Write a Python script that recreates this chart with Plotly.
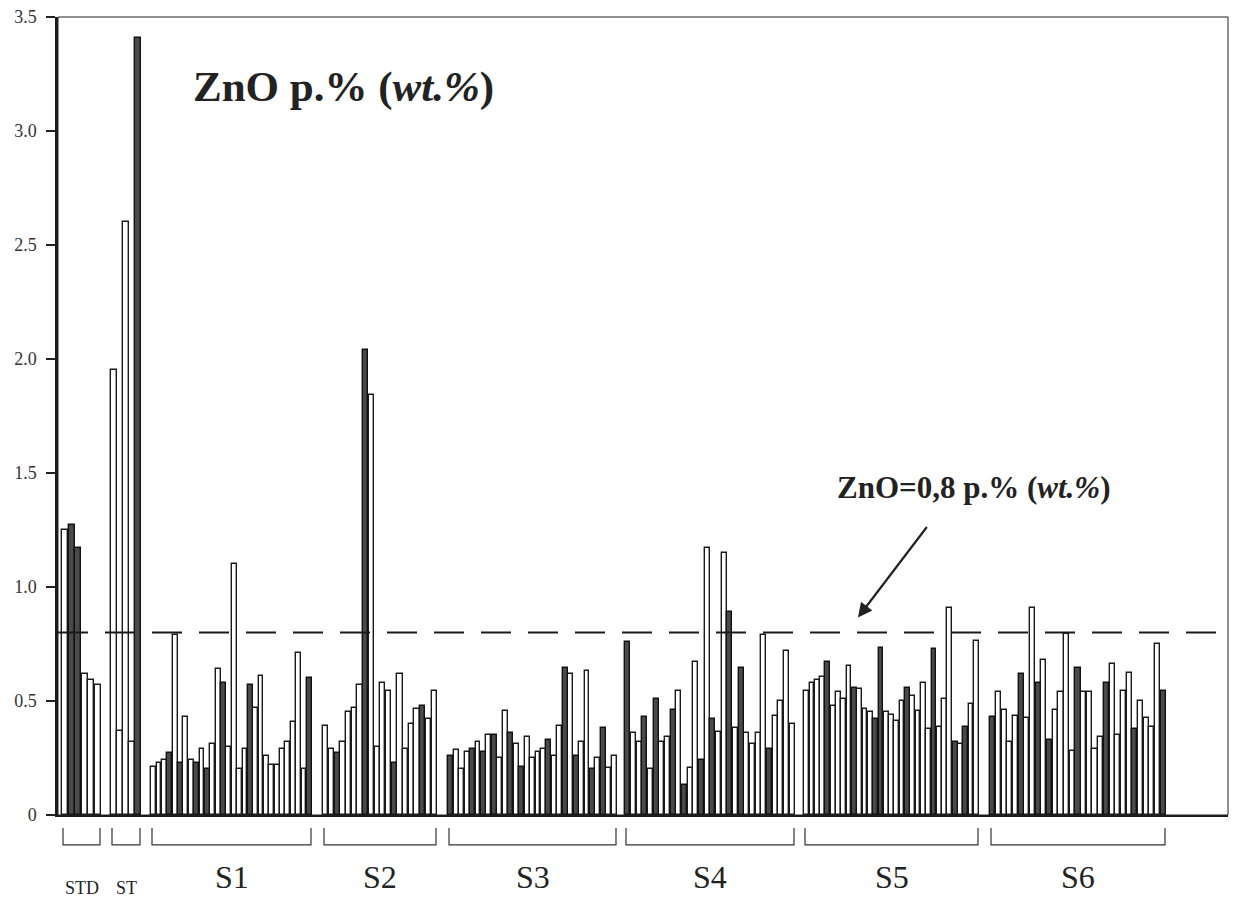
import plotly.graph_objects as go

# ---------------- data (ZnO wt.% per analysis) ----------------
group_names = ["STD", "ST", "S1", "S2", "S3", "S4", "S5", "S6"]

std_values = [1.25, 1.27, 1.17, 0.62, 0.59, 0.57]
st_values = [1.95, 0.37, 2.60, 0.32, 3.41]
s1_values = [0.21, 0.23, 0.24, 0.27, 0.79, 0.23, 0.43, 0.24, 0.23, 0.29,
             0.20, 0.31, 0.64, 0.58, 0.30, 1.10, 0.20, 0.29, 0.57, 0.47,
             0.61, 0.26, 0.22, 0.22, 0.29, 0.32, 0.41, 0.71, 0.20, 0.60]
s2_values = [0.39, 0.29, 0.27, 0.32, 0.45, 0.47, 0.57, 2.04, 1.84, 0.30,
             0.58, 0.545, 0.23, 0.62, 0.29, 0.40, 0.465, 0.48, 0.42, 0.545]
s3_values = [0.26, 0.286, 0.20, 0.276, 0.29, 0.32, 0.276, 0.35, 0.35, 0.25,
             0.455, 0.36, 0.31, 0.21, 0.34, 0.25, 0.276, 0.29, 0.327, 0.26,
             0.39, 0.645, 0.62, 0.26, 0.32, 0.63, 0.20, 0.25, 0.38, 0.205, 0.26]
s4_values = [0.76, 0.36, 0.32, 0.43, 0.20, 0.51, 0.32, 0.34, 0.46, 0.545,
             0.13, 0.205, 0.67, 0.24, 1.17, 0.42, 0.363, 1.15, 0.89, 0.38,
             0.645, 0.36, 0.31, 0.36, 0.79, 0.29, 0.435, 0.50, 0.72, 0.40]
s5_values = [0.545, 0.577, 0.59, 0.606, 0.67, 0.48, 0.54, 0.51, 0.654, 0.557,
             0.553, 0.466, 0.45, 0.42, 0.734, 0.45, 0.44, 0.414, 0.50, 0.557,
             0.52, 0.458, 0.58, 0.378, 0.73, 0.385, 0.51, 0.91, 0.32, 0.31,
             0.388, 0.488, 0.763]
s6_values = [0.43, 0.54, 0.46, 0.32, 0.436, 0.62, 0.427, 0.91, 0.577, 0.68,
             0.327, 0.46, 0.54, 0.795, 0.28, 0.644, 0.54, 0.54, 0.29, 0.344,
             0.58, 0.664, 0.35, 0.545, 0.625, 0.378, 0.50, 0.427, 0.388, 0.75,
             0.545]

# indices of analyses drawn as dark (shaded) bars in each group
std_dark = [1, 2]
st_dark = [4]
s1_dark = [3, 5, 8, 10, 13, 18, 29]
s2_dark = [2, 7, 12, 17]
s3_dark = [0, 4, 6, 8, 11, 13, 18, 21, 23, 26, 28]
s4_dark = [0, 3, 5, 8, 10, 13, 15, 18, 20, 25]
s5_dark = [4, 9, 13, 14, 19, 24, 28, 30]
s6_dark = [0, 5, 8, 10, 15, 20, 25, 30]

threshold = 0.8
y_tick_vals = [0, 0.5, 1.0, 1.5, 2.0, 2.5, 3.0, 3.5]
y_tick_text = ["0", "0.5", "1.0", "1.5", "2.0", "2.5", "3.0", "3.5"]

# ---------------- layout helpers ----------------
groups_values = [std_values, st_values, s1_values, s2_values,
                 s3_values, s4_values, s5_values, s6_values]
groups_dark = [std_dark, st_dark, s1_dark, s2_dark,
               s3_dark, s4_dark, s5_dark, s6_dark]
# horizontal extent of each group on the category axis (axis units)
group_spans = [(4, 43), (53, 83), (93, 254), (265, 379),
               (390, 559), (567, 737), (746, 921), (932, 1108)]
x_range = [0, 1170]

wx, wy, ww = [], [], []
dx, dy, dw = [], [], []
for vals, dark, (a, b) in zip(groups_values, groups_dark, group_spans):
    step = (b - a) / len(vals)
    for i, v in enumerate(vals):
        xc = a + (i + 0.5) * step
        if i in dark:
            dx.append(xc); dy.append(v); dw.append(step * 0.9)
        else:
            wx.append(xc); wy.append(v); ww.append(step * 0.9)

fig = go.Figure()
fig.add_trace(go.Bar(x=wx, y=wy, width=ww,
                     marker=dict(color="white", line=dict(color="#1a1a1a", width=1.4)),
                     showlegend=False, hoverinfo="y"))
fig.add_trace(go.Bar(x=dx, y=dy, width=dw,
                     marker=dict(color="#4a4a4a", line=dict(color="#111111", width=1.4)),
                     showlegend=False, hoverinfo="y"))

serif = "Liberation Serif, Times New Roman, serif"

shapes = []
# threshold dashed line
shapes.append(dict(type="line", xref="paper", yref="y", x0=0, x1=1,
                   y0=threshold, y1=threshold,
                   line=dict(color="#1a1a1a", width=2, dash="30px,17px"), layer="above"))
# frame (top & right)
shapes.append(dict(type="rect", xref="paper", yref="paper", x0=0, x1=1, y0=0, y1=1,
                   line=dict(color="#222", width=1), layer="above"))
# group brackets under the axis
for (a, b) in group_spans:
    shapes.append(dict(type="path", xref="x", yref="paper",
                       path=f"M {a+1},-0.0163 L {a+1},-0.0375 L {b-1},-0.0375 L {b-1},-0.0163",
                       line=dict(color="#333", width=1.2)))

annotations = []
for name, (a, b) in zip(group_names, group_spans):
    small = name in ("STD", "ST")
    annotations.append(dict(x=(a + b) / 2, y=-0.0915 if small else -0.0775,
                            xref="x", yref="paper", text=name, showarrow=False,
                            font=dict(family=serif, size=18 if small else 32, color="#222"),
                            yanchor="middle"))
annotations.append(dict(x=0.114, y=0.9125, xref="paper", yref="paper", xanchor="left",
                        text="<b>ZnO p.% (<i>wt.%</i>)</b>", showarrow=False,
                        font=dict(family=serif, size=43, color="#222"), yanchor="middle"))
annotations.append(dict(x=0.664, y=0.41, xref="paper", yref="paper", xanchor="left",
                        text="<b>ZnO=0,8 p.% (<i>wt.%</i>)</b>", showarrow=False,
                        font=dict(family=serif, size=31, color="#222"), yanchor="middle"))
# arrow pointing at the threshold line
annotations.append(dict(x=(858 - 58) / 1170, y=(815 - 617) / 800, xref="paper", yref="paper",
                        ax=928 - 858, ay=525 - 617, axref="pixel", ayref="pixel",
                        text="", showarrow=True, arrowhead=2, arrowsize=1.3,
                        arrowwidth=2.2, arrowcolor="#222"))

fig.update_layout(
    width=1235, height=899,
    margin=dict(l=58, r=7, t=15, b=84),
    paper_bgcolor="white", plot_bgcolor="white",
    bargap=0, barmode="overlay",
    shapes=shapes, annotations=annotations,
    xaxis=dict(range=x_range, showgrid=False, zeroline=False, showticklabels=False,
               ticks="", showline=True, linecolor="#1a1a1a", linewidth=2, fixedrange=True),
    yaxis=dict(range=[0, 3.5], tickvals=y_tick_vals, ticktext=y_tick_text,
               showgrid=False, zeroline=False, ticks="outside", ticklen=9, tickwidth=1.5,
               tickcolor="#222", showline=True, linecolor="#1a1a1a", linewidth=2.5,
               tickfont=dict(family=serif, size=18, color="#333"),
               ticklabelstandoff=6, fixedrange=True),
)

fig.write_html("out.html", config={"displayModeBar": False},
               post_script="document.body.style.margin='0';document.body.style.overflow='hidden';")
